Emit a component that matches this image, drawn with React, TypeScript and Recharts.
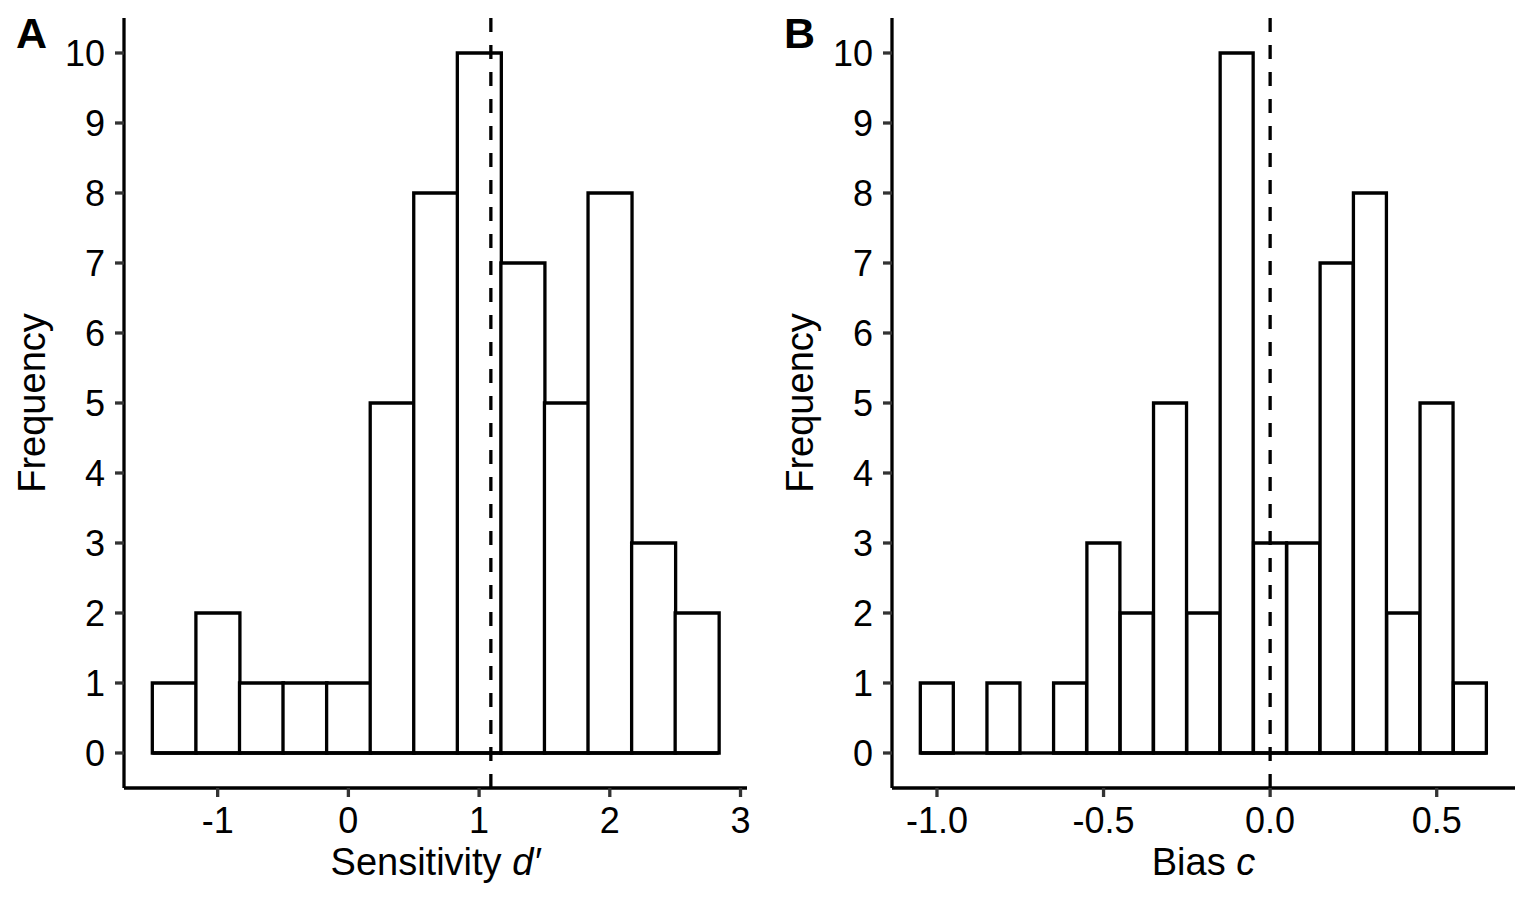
import { ComposedChart, Bar, XAxis, YAxis, ReferenceLine } from 'recharts';

// histogram bins: edges[i]..edges[i + 1] holds counts[i]
const sensitivityEdges = [-1.5, -1.167, -0.833, -0.5, -0.167, 0.167, 0.5, 0.833, 1.167, 1.5, 1.833, 2.167, 2.5, 2.833];
const sensitivityCounts = [1, 2, 1, 1, 1, 5, 8, 10, 7, 5, 8, 3, 2];
const sensitivityTicks = [-1, 0, 1, 2, 3];
const sensitivityMean = 1.09;

const biasEdges = [-1.05, -0.95, -0.85, -0.75, -0.65, -0.55, -0.45, -0.35, -0.25, -0.15, -0.05, 0.05, 0.15, 0.25, 0.35, 0.45, 0.55, 0.65];
const biasCounts = [1, 0, 1, 0, 1, 3, 2, 5, 2, 10, 3, 3, 7, 8, 2, 5, 1];
const biasTicks = [-1.0, -0.5, 0.0, 0.5];
const biasMean = 0;

const frequencyTicks = [0, 1, 2, 3, 4, 5, 6, 7, 8, 9, 10];

const FONT = '"Liberation Sans", Arial, sans-serif';
const LW = 3.3;

const toBins = (edges: number[], counts: number[]) =>
  counts.map((count, i) => ({ mid: (edges[i] + edges[i + 1]) / 2, count }));

// ggplot-style 5% expansion
const expand = (lo: number, hi: number): [number, number] => {
  const pad = (hi - lo) * 0.05;
  return [lo - pad, hi + pad];
};

interface PanelProps {
  tag: string;
  edges: number[];
  counts: number[];
  ticks: number[];
  mean: number;
  titleMain: string;
  titleItalic: string;
  formatTick: (v: number) => string;
}

function HistPanel({ tag, edges, counts, ticks, mean, titleMain, titleItalic, formatTick }: PanelProps) {
  const data = toBins(edges, counts);
  const first = edges[0];
  const last = edges[edges.length - 1];
  const maxCount = Math.max(...counts);

  return (
    <ComposedChart
      width={767}
      height={904}
      data={data}
      barCategoryGap={0}
      barGap={0}
      margin={{ top: 18, right: 20, bottom: 0, left: 0 }}
    >
      <XAxis
        dataKey="mid"
        type="number"
        scale="linear"
        domain={expand(first, last)}
        allowDataOverflow
        ticks={ticks}
        interval={0}
        tickFormatter={formatTick}
        height={116}
        tickSize={9}
        tickMargin={10}
        tick={{ fill: '#000', fontSize: 36 }}
        tickLine={{ stroke: '#333', strokeWidth: LW }}
        axisLine={{ stroke: '#000', strokeWidth: LW }}
        label={{
          content: ({ viewBox }: any) => (
            <text
              x={viewBox.x + viewBox.width / 2}
              y={viewBox.y + 87}
              textAnchor="middle"
              fontSize={38}
              fill="#000"
            >
              {titleMain}
              <tspan fontStyle="italic">{titleItalic}</tspan>
            </text>
          ),
        }}
      />
      <YAxis
        type="number"
        domain={expand(0, maxCount)}
        allowDataOverflow
        ticks={frequencyTicks}
        interval={0}
        width={124}
        tickSize={9}
        tickMargin={10}
        tick={{ fill: '#000', fontSize: 36 }}
        tickLine={{ stroke: '#333', strokeWidth: LW }}
        axisLine={{ stroke: '#000', strokeWidth: LW }}
        label={{
          content: ({ viewBox }: any) => {
            const cx = viewBox.x + 45;
            const cy = viewBox.y + viewBox.height / 2;
            return (
              <g>
                <text
                  x={cx}
                  y={cy}
                  textAnchor="middle"
                  fontSize={38}
                  fill="#000"
                  transform={`rotate(-90 ${cx} ${cy})`}
                >
                  Frequency
                </text>
                <text x={viewBox.x + 16} y={48} fontSize={43} fontWeight="bold" fill="#000">
                  {tag}
                </text>
              </g>
            );
          },
        }}
      />
      <Bar
        dataKey="count"
        fill="#fff"
        stroke="#000"
        strokeWidth={LW}
        isAnimationActive={false}
      />
      <ReferenceLine
        segment={[{ x: first, y: 0 }, { x: last, y: 0 }]}
        stroke="#000"
        strokeWidth={LW}
      />
      <ReferenceLine x={mean} stroke="#000" strokeWidth={LW} strokeDasharray="14 13" />
    </ComposedChart>
  );
}

export default function App() {
  return (
    <div
      style={{
        position: 'absolute',
        left: 0,
        top: 0,
        width: 1535,
        height: 904,
        display: 'flex',
        background: '#fff',
        fontFamily: FONT,
      }}
    >
      <div style={{ width: 768, height: 904 }}>
        <HistPanel
          tag="A"
          edges={sensitivityEdges}
          counts={sensitivityCounts}
          ticks={sensitivityTicks}
          mean={sensitivityMean}
          titleMain="Sensitivity "
          titleItalic="d′"
          formatTick={(v) => String(v)}
        />
      </div>
      <div style={{ width: 767, height: 904 }}>
        <HistPanel
          tag="B"
          edges={biasEdges}
          counts={biasCounts}
          ticks={biasTicks}
          mean={biasMean}
          titleMain="Bias "
          titleItalic="c"
          formatTick={(v) => v.toFixed(1)}
        />
      </div>
    </div>
  );
}
